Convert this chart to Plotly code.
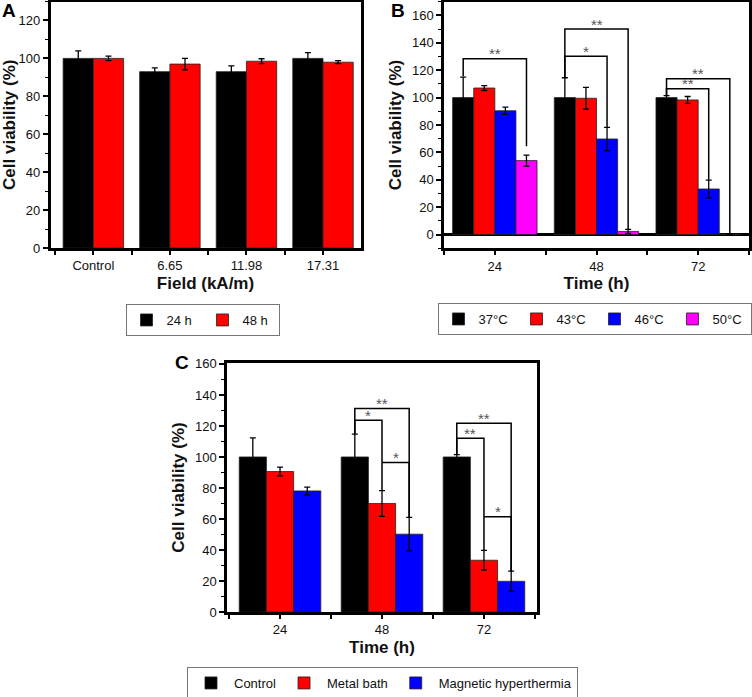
import plotly.graph_objects as go

W, H = 752, 697

# ---------------- Panel A data ----------------
a_categories = ["Control", "6.65", "11.98", "17.31"]
a_24h = [100, 93, 93, 100]
a_24h_err = [4, 2, 3, 3]
a_48h = [100, 97, 98.5, 98]
a_48h_err = [1.2, 3, 1.3, 0.8]

# ---------------- Panel B data ----------------
b_categories = ["24", "48", "72"]
b_37 = [100, 100, 100]
b_37_err = [15, 14.5, 1.5]
b_43 = [107, 99.5, 98.3]
b_43_err = [1.8, 8, 2.5]
b_46 = [90.4, 69.8, 33.3]
b_46_err = [2.7, 8.5, 6.5]
b_50 = [54, 2.3, 0.3]
b_50_err = [4, 1.5, 0.4]

# ---------------- Panel C data ----------------
c_categories = ["24", "48", "72"]
c_control = [100, 100, 100]
c_control_err = [12.3, 14.7, 1.5]
c_metal = [90.6, 70, 33.4]
c_metal_err = [2.8, 8.3, 6.3]
c_magnetic = [78.1, 50.2, 19.8]
c_magnetic_err = [2.5, 10.8, 6.5]

# significance brackets: (group, bar_from, bar_to, top, left_end, right_end, label)
b_brackets = [
    (0, 0, 3, 128.4, 115.5, 64.4, "**"),
    (1, 0, 2, 130.1, 115.0, 78.5, "*"),
    (1, 0, 3, 150.0, 115.0, 3.6, "**"),
    (2, 0, 3, 113.8, 101.0, 1.2, "**"),
    (2, 0, 2, 106.5, 101.0, 40.0, "**"),
]
c_brackets = [
    (1, 0, 2, 131.3, 114.7, 61.0, "**"),
    (1, 0, 1, 123.6, 114.7, 78.3, "*"),
    (1, 1, 2, 96.4, 96.4, 61.0, "*"),
    (2, 0, 2, 121.8, 101.8, 26.3, "**"),
    (2, 0, 1, 112.1, 101.8, 39.7, "**"),
    (2, 1, 2, 61.5, 61.5, 26.3, "*"),
]

FONT = "Liberation Sans, Arial, sans-serif"
BLACK, RED, BLUE, MAGENTA = "#000000", "#ff0000", "#0000ff", "#ff00ff"


def px_x(p):
    return p / W


def px_y(p):
    return 1 - p / H


fig = go.Figure()


def add_group(series, names, colors, cats, gap, xa, ya, legend):
    n = len(series)
    w = (1 - gap) / n
    for i, ((vals, errs), name, col) in enumerate(zip(series, names, colors)):
        fig.add_trace(go.Bar(
            x=list(range(len(cats))), y=vals, name=name,
            width=w, offset=-(1 - gap) / 2 + i * w,
            marker=dict(color=col, line=dict(color="#222222", width=0.8)),
            error_y=dict(type="data", array=errs, visible=True, color="black",
                         thickness=1.3, width=3),
            xaxis=xa, yaxis=ya, legend=legend,
        ))


def add_brackets(brackets, n, gap, xa, ya):
    w = (1 - gap) / n
    for g, i0, i1, top, le, re, lab in brackets:
        xl = g + (i0 - (n - 1) / 2) * w
        xr = g + (i1 - (n - 1) / 2) * w
        fig.add_trace(go.Scatter(
            x=[xl, xl, xr, xr], y=[le, top, top, re], mode="lines",
            line=dict(color="black", width=1.5), showlegend=False,
            hoverinfo="skip", xaxis=xa, yaxis=ya,
        ))
        fig.add_annotation(x=(xl + xr) / 2, y=top, xref=xa, yref=ya,
                           text=lab, showarrow=False, yanchor="middle", yshift=5,
                           font=dict(family=FONT, size=15, color="#555555"))


gapA, gapB, gapC = 0.21, 0.17, 0.2
add_group([(a_24h, a_24h_err), (a_48h, a_48h_err)], ["24 h", "48 h"],
          [BLACK, RED], a_categories, gapA, "x", "y", "legend")
add_group([(b_37, b_37_err), (b_43, b_43_err), (b_46, b_46_err), (b_50, b_50_err)],
          ["37°C", "43°C", "46°C", "50°C"], [BLACK, RED, BLUE, MAGENTA],
          b_categories, gapB, "x2", "y2", "legend2")
add_group([(c_control, c_control_err), (c_metal, c_metal_err), (c_magnetic, c_magnetic_err)],
          ["Control", "Metal bath", "Magnetic hyperthermia"], [BLACK, RED, BLUE],
          c_categories, gapC, "x3", "y3", "legend3")
add_brackets(b_brackets, 4, gapB, "x2", "y2")
add_brackets(c_brackets, 3, gapC, "x3", "y3")

tickfont = dict(family=FONT, size=13, color="#111111")
titlefont = dict(family=FONT, size=17, color="#111111", weight="bold")


def xaxis(domain, rng, cats, title, anchor):
    n = len(cats)
    return dict(
        domain=domain, range=rng, anchor=anchor, tickmode="array",
        tickvals=list(range(n)), ticktext=cats, ticks="outside", ticklen=4,
        tickwidth=1.5, tickcolor="black",
        minor=dict(tickmode="array", tickvals=[k + 0.5 for k in range(-1, n)],
                   ticks="outside", ticklen=4, tickwidth=1.5, tickcolor="black"),
        showline=True, mirror=True, linewidth=2.5, linecolor="black",
        showgrid=False, zeroline=False, tickfont=tickfont,
        title=dict(text=title, font=titlefont, standoff=5), automargin=False,
        fixedrange=True,
    )


def yaxis(domain, rng, top, anchor, zl=False):
    return dict(
        domain=domain, range=rng, anchor=anchor, tickmode="array",
        tickvals=list(range(0, top + 1, 20)), ticks="outside", ticklen=5,
        tickwidth=1.5, tickcolor="black",
        minor=dict(dtick=10, tick0=0, ticks="outside", ticklen=3, tickwidth=1.2,
                   tickcolor="black"),
        showline=True, mirror=True, linewidth=2.5, linecolor="black",
        showgrid=False, zeroline=zl, zerolinecolor="black", zerolinewidth=2.5,
        tickfont=tickfont,
        title=dict(text="Cell viability (%)", font=titlefont, standoff=6),
        automargin=False, fixedrange=True,
    )


legend_style = dict(orientation="h", xanchor="center", yanchor="top",
                    bgcolor="white", bordercolor="#777777", borderwidth=1,
                    font=dict(family=FONT, size=13, color="#111111"),
                    itemclick=False, itemdoubleclick=False)

fig.update_layout(
    width=W, height=H, margin=dict(l=0, r=0, t=0, b=0, autoexpand=False),
    paper_bgcolor="white", plot_bgcolor="white", barmode="group",
    font=dict(family=FONT, color="#111111"),
    xaxis=xaxis([px_x(50.5), px_x(360.5)], [-0.56, 3.49], a_categories,
                "Field (kA/m)", "y"),
    yaxis=yaxis([px_y(248), px_y(1.5)], [0, 130], 120, "x"),
    xaxis2=xaxis([px_x(444), px_x(749)], [-0.5, 2.5], b_categories, "Time (h)", "y2"),
    yaxis2=yaxis([px_y(248.3), px_y(1.7)], [-10, 170], 160, "x2", zl=True),
    xaxis3=xaxis([px_x(227), px_x(537)], [-0.52, 2.52], c_categories, "Time (h)", "y3"),
    yaxis3=yaxis([px_y(612), px_y(363)], [0, 160.6], 160, "x3"),
    legend=legend_style | dict(x=px_x(202.5), y=px_y(304), entrywidth=31),
    legend2=legend_style | dict(x=px_x(594.5), y=px_y(303), entrywidth=33),
    legend3=legend_style | dict(x=px_x(382.5), y=px_y(667), itemwidth=36),
    showlegend=True,
)

for lab, xp, yp in [("A", 9, 10), ("B", 398, 10), ("C", 182, 363)]:
    fig.add_annotation(x=px_x(xp), y=px_y(yp), xref="paper", yref="paper", text=lab,
                       showarrow=False, xanchor="center", yanchor="middle",
                       font=dict(family=FONT, size=19, color="black", weight="bold"))

fig.write_html("out.html", config={"displayModeBar": False},
               post_script="document.body.style.margin='0';document.body.style.overflow='hidden';")
